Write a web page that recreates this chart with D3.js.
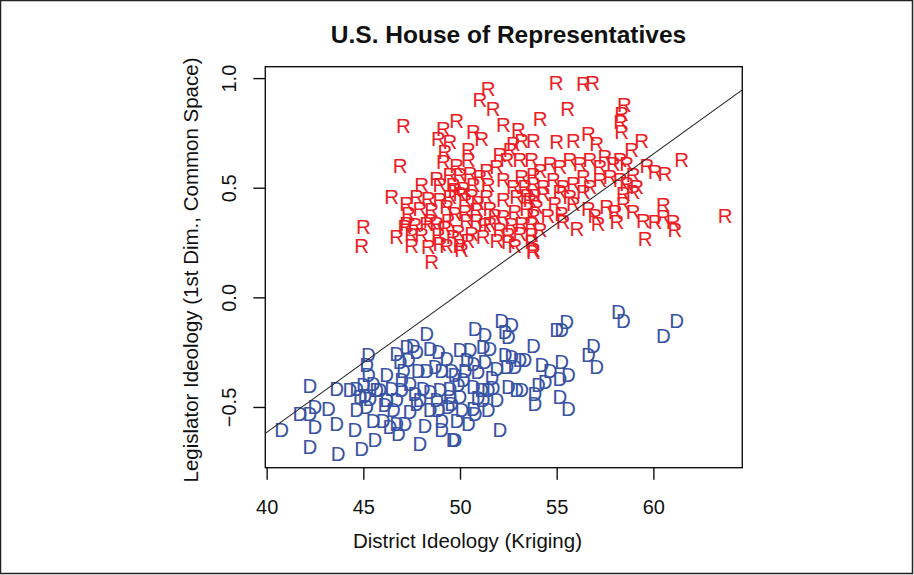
<!DOCTYPE html>
<html>
<head>
<meta charset="utf-8">
<script src="https://cdn.jsdelivr.net/npm/d3@7"></script>
<style>
  body { margin: 0; background: #fff; }
  text { font-family: "Liberation Sans", Arial, Helvetica, sans-serif; }
</style>
</head>
<body>
<div id="content"></div>
<script>
// district ideology (x) vs legislator ideology (y)
let repX = [51.46,51.03,51.72,54.14,47.07,49.83,49.14,50.69,51.12,52.24,53.02,48.88,49.48,53.19,53.79,52.76,
  46.90,49.22,50.43,49.14,49.83,50.43,52.07,52.59,53.10,53.71,51.38,51.90,52.42,48.79,49.48,50.00,50.52,51.03,
  52.24,53.19,53.79,48.02,49.65,50.17,50.69,51.46,52.76,53.36,46.47,47.24,47.76,48.36,48.96,49.48,50.00,50.60,
  51.38,52.24,52.93,53.62,47.33,47.93,48.54,49.31,49.74,50.26,50.86,51.55,52.24,52.84,53.45,53.97,47.24,47.67,
  48.28,48.79,49.39,50.35,50.86,51.55,52.67,53.19,53.71,45.00,47.15,46.72,47.50,48.02,48.88,49.65,50.60,51.20,
  52.50,53.10,53.71,44.91,47.50,48.36,48.96,49.31,50.00,50.09,52.50,53.79,48.54,54.97,56.38,56.86,55.57,58.50,
  58.36,58.31,58.36,59.40,56.64,57.07,55.86,55.00,61.47,58.88,59.66,60.09,60.60,58.62,58.28,57.50,57.93,57.24,
  56.72,56.21,55.69,55.17,54.66,54.14,58.96,59.14,58.62,58.28,57.76,57.24,56.72,56.38,55.86,55.34,54.83,54.31,
  53.79,58.45,58.96,56.38,55.69,55.17,54.31,53.88,60.52,58.45,57.59,56.64,55.86,54.91,58.96,58.02,56.98,55.26,
  53.79,59.48,60.09,60.52,61.03,61.12,63.71,58.11,57.15,56.04,55.34,54.14,59.57,53.71,53.79,
  49.74,50.26,50.93,49.22,49.90,50.41,51.81,51.91,52.84,53.47,54.55,48.96,48.45,51.29,52.07];
let repY = [0.953,0.900,0.862,0.816,0.781,0.805,0.771,0.755,0.725,0.786,0.763,0.725,0.710,0.717,0.717,0.702,
  0.603,0.664,0.672,0.618,0.603,0.626,0.649,0.672,0.626,0.626,0.580,0.596,0.626,0.543,0.558,0.558,0.565,0.550,
  0.535,0.550,0.558,0.512,0.512,0.497,0.512,0.512,0.504,0.504,0.459,0.429,0.459,0.451,0.444,0.459,0.474,0.466,
  0.459,0.444,0.459,0.444,0.383,0.406,0.398,0.413,0.383,0.390,0.398,0.406,0.368,0.390,0.406,0.413,0.337,0.330,
  0.337,0.337,0.352,0.352,0.352,0.337,0.330,0.337,0.337,0.322,0.322,0.276,0.284,0.284,0.284,0.276,0.292,0.276,
  0.284,0.292,0.284,0.238,0.238,0.231,0.246,0.238,0.238,0.216,0.254,0.216,0.162,0.979,0.973,0.979,0.862,0.877,
  0.840,0.801,0.755,0.717,0.748,0.702,0.717,0.710,0.626,0.672,0.603,0.573,0.565,0.611,0.626,0.641,0.611,0.596,
  0.626,0.611,0.626,0.596,0.611,0.580,0.558,0.504,0.520,0.535,0.550,0.535,0.504,0.550,0.520,0.504,0.535,0.504,
  0.520,0.474,0.482,0.482,0.459,0.482,0.474,0.466,0.421,0.429,0.413,0.406,0.429,0.429,0.390,0.390,0.375,0.383,
  0.375,0.352,0.345,0.368,0.345,0.307,0.375,0.345,0.337,0.315,0.345,0.307,0.269,0.254,0.208,
  0.490,0.444,0.430,0.316,0.298,0.261,0.375,0.261,0.238,0.466,0.375,0.512,0.352,0.330,0.307];

let demX = [42.24,43.62,41.72,42.24,42.50,43.19,40.78,42.50,43.62,44.57,42.24,43.70,44.91,45.60,45.26,45.17,
  45.26,44.31,44.66,45.00,45.51,44.83,45.34,45.69,44.66,45.17,45.51,46.03,46.38,46.72,47.15,46.21,46.47,46.21,
  46.72,46.55,46.72,46.90,47.07,46.98,46.98,47.24,47.33,47.58,47.76,47.84,47.41,47.67,47.76,46.81,48.28,48.45,
  48.88,49.31,48.28,48.71,49.05,49.57,48.10,48.45,48.96,49.48,47.93,48.79,49.48,48.88,49.39,49.05,49.05,49.65,
  47.93,58.19,58.45,61.21,60.52,55.52,55.00,55.26,52.16,52.67,52.33,52.50,50.78,51.29,51.20,51.55,53.79,56.90,
  56.64,57.07,50.00,50.52,52.33,52.67,53.10,53.36,51.90,52.42,52.84,54.23,54.66,55.26,55.60,55.17,54.40,54.05,
  52.50,52.93,53.19,53.88,53.88,55.17,55.60,50.69,50.26,50.17,50.69,51.12,51.46,50.00,51.20,50.69,50.78,50.43,
  52.07,49.74,49.57,
  49.74,49.90,50.36,50.93,51.29,51.65,51.91,51.45,50.10,49.84,50.93,51.71,48.45,48.19,47.41,46.12,45.86,45.08];
let demY = [-0.404,-0.415,-0.529,-0.529,-0.499,-0.506,-0.605,-0.590,-0.575,-0.605,-0.681,-0.711,-0.689,-0.651,
  -0.263,-0.309,-0.354,-0.423,-0.415,-0.400,-0.392,-0.453,-0.461,-0.423,-0.514,-0.499,-0.560,-0.560,-0.590,-0.575,
  -0.575,-0.354,-0.415,-0.468,-0.468,-0.514,-0.255,-0.294,-0.332,-0.377,-0.423,-0.225,-0.286,-0.218,-0.248,-0.332,
  -0.392,-0.438,-0.483,-0.620,-0.164,-0.233,-0.248,-0.278,-0.332,-0.316,-0.332,-0.332,-0.415,-0.430,-0.423,-0.415,
  -0.468,-0.468,-0.453,-0.514,-0.499,-0.560,-0.605,-0.651,-0.666,-0.066,-0.104,-0.104,-0.176,-0.111,-0.149,-0.149,
  -0.104,-0.126,-0.157,-0.180,-0.141,-0.172,-0.225,-0.233,-0.218,-0.218,-0.263,-0.316,-0.240,-0.240,-0.263,-0.271,
  -0.286,-0.286,-0.324,-0.316,-0.316,-0.309,-0.332,-0.294,-0.354,-0.369,-0.385,-0.400,-0.408,-0.423,-0.423,-0.438,
  -0.483,-0.453,-0.506,-0.301,-0.332,-0.377,-0.408,-0.423,-0.423,-0.453,-0.468,-0.506,-0.529,-0.575,-0.605,-0.651,
  -0.483,
  -0.354,-0.400,-0.286,-0.341,-0.295,-0.368,-0.468,-0.514,-0.514,-0.560,-0.459,-0.414,-0.514,-0.583,-0.523,-0.491,
  -0.423,-0.446];

let xTicks = [40, 45, 50, 55, 60];
let yTicks = [-0.5, 0.0, 0.5, 1.0];
let xLim = [39.93, 64.6];
let yLim = [-0.777, 1.052];
// cutting line  y = a + b*x
let lineA = -3.156, lineB = 0.0635;

let width = 914, height = 575;
let plotLeft = 265.3, plotRight = 742.3, plotTop = 66.7, plotBottom = 467.7;

let svg = d3.select('#content').append('svg')
  .attr('width', width)
  .attr('height', height);

// outer frame
svg.append('rect')
  .attr('x', 0.5).attr('y', 0.5)
  .attr('width', 912).attr('height', 573)
  .attr('fill', 'white')
  .attr('stroke', '#222')
  .attr('stroke-width', 1.5);

let x = d3.scaleLinear().domain(xLim).range([plotLeft, plotRight]);
let y = d3.scaleLinear().domain(yLim).range([plotBottom, plotTop]);

svg.append('clipPath').attr('id', 'plotclip')
  .append('rect')
  .attr('x', plotLeft).attr('y', plotTop)
  .attr('width', plotRight - plotLeft).attr('height', plotBottom - plotTop);

let plot = svg.append('g').attr('clip-path', 'url(#plotclip)');

let reps = repX.map(function(v, i) { return [v, repY[i]]; });
let dems = demX.map(function(v, i) { return [v, demY[i]]; });

plot.selectAll('text.rep')
  .data(reps)
  .enter()
  .append('text')
  .attr('class', 'rep')
  .attr('x', function(d) { return x(d[0]); })
  .attr('y', function(d) { return y(d[1]); })
  .attr('dy', '0.36em')
  .attr('text-anchor', 'middle')
  .attr('font-size', 20.5)
  .attr('fill', '#EE1D25')
  .text('R');

plot.selectAll('text.dem')
  .data(dems)
  .enter()
  .append('text')
  .attr('class', 'dem')
  .attr('x', function(d) { return x(d[0]); })
  .attr('y', function(d) { return y(d[1]); })
  .attr('dy', '0.36em')
  .attr('text-anchor', 'middle')
  .attr('font-size', 20.5)
  .attr('fill', '#3953A4')
  .text('D');

plot.append('line')
  .attr('x1', x(xLim[0]))
  .attr('y1', y(lineA + lineB * xLim[0]))
  .attr('x2', x(xLim[1]))
  .attr('y2', y(lineA + lineB * xLim[1]))
  .attr('stroke', '#222')
  .attr('stroke-width', 1.1);

// box
svg.append('rect')
  .attr('x', plotLeft).attr('y', plotTop)
  .attr('width', plotRight - plotLeft).attr('height', plotBottom - plotTop)
  .attr('fill', 'none')
  .attr('stroke', '#111')
  .attr('stroke-width', 1.4);

let xAxis = svg.append('g')
  .attr('transform', 'translate(0,' + plotBottom + ')')
  .call(d3.axisBottom(x).tickValues(xTicks).tickSize(12).tickPadding(20).tickFormat(d3.format('d')));
xAxis.select('.domain').remove();
xAxis.selectAll('line').attr('stroke', '#111').attr('stroke-width', 1.4);
xAxis.selectAll('text').attr('font-size', 20).attr('fill', '#111')
  .style('font-family', '"Liberation Sans", Arial, sans-serif');

let yAxis = svg.append('g')
  .attr('transform', 'translate(' + plotLeft + ',0)')
  .call(d3.axisLeft(y).tickValues(yTicks).tickSize(12).tickFormat(d3.format('.1f')));
yAxis.select('.domain').remove();
yAxis.selectAll('line').attr('stroke', '#111').attr('stroke-width', 1.4);
yAxis.selectAll('text')
  .attr('x', 0).attr('y', 0).attr('dy', 0)
  .attr('text-anchor', 'middle')
  .attr('transform', 'translate(-29.5,0) rotate(-90)')
  .attr('font-size', 20).attr('fill', '#111')
  .style('font-family', '"Liberation Sans", Arial, sans-serif')
  .text(function(d) { return d3.format('.1f')(d).replace('-', '\u2212'); });

svg.append('text')
  .attr('x', 508.5).attr('y', 43)
  .attr('text-anchor', 'middle')
  .attr('font-size', 24.5)
  .attr('font-weight', 'bold')
  .attr('fill', '#111')
  .text('U.S. House of Representatives');

svg.append('text')
  .attr('x', 467.5).attr('y', 548)
  .attr('text-anchor', 'middle')
  .attr('font-size', 20.5)
  .attr('fill', '#111')
  .text('District Ideology (Kriging)');

svg.append('text')
  .attr('transform', 'translate(197.5,270) rotate(-90)')
  .attr('text-anchor', 'middle')
  .attr('font-size', 20.5)
  .attr('fill', '#111')
  .text('Legislator Ideology (1st Dim., Common Space)');
</script>
</body>
</html>
